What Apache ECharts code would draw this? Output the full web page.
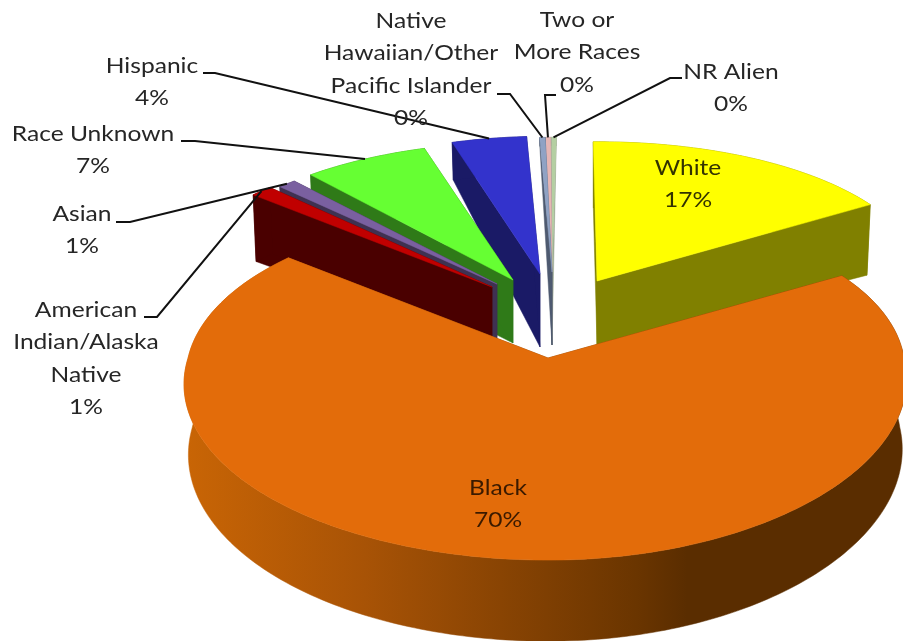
<!DOCTYPE html>
<html>
<head>
<meta charset="utf-8">
<style>html,body{margin:0;padding:0;background:#fff}#c{width:903px;height:641px}</style>
<script src="https://cdn.jsdelivr.net/npm/echarts@6/dist/echarts.min.js"></script>
</head>
<body>
<div id="c"></div>
<script>
// ---- data ----
const categories = ['White','Black','American Indian/Alaska Native','Asian','Race Unknown','Hispanic','Native Hawaiian/Other Pacific Islander','Two or More Races','NR Alien'];
const values = [16.6, 69.6, 1.2, 1.0, 6.7, 4.0, 0.3, 0.3, 0.3];
const labelLines = [['White'],['Black'],['American','Indian/Alaska','Native'],['Asian'],['Race Unknown'],['Hispanic'],['Native','Hawaiian/Other','Pacific Islander'],['Two or','More Races'],['NR Alien']];

// ---- style ----
const topColors = ['#FFFF00','#E36C0A','#C00000','#7A60A0','#66FF33','#3333CC','#8FA2C4','#E6B6B4','#B4CFA2'];
const wallColors = ['#808000',null,'#4A0000','#3F3151','#2F7A18','#1A1A66','#4E5A70','#7A7A80','#9AA890'];
const blackWall = {type:'linear',x:184,y:0,x2:903,y2:0,global:true,colorStops:[
  {offset:0,color:'#C96505'},{offset:.25,color:'#A85306'},{offset:.63,color:'#6A3500'},{offset:.7,color:'#5A2D00'},{offset:1,color:'#5A2D00'}]};
const textColors = ['#333300','#3A1A00','#262626','#262626','#262626','#262626','#262626','#262626','#262626'];

// ---- layout of the 3D view ----
const START = -0.7, K = .149, G = 172, F = 356, C = .07, INSET = .012, TEXT_STRETCH = 1.17;
const apexX = [597,548,492,497,513,540,552,552,552];
const apexY = [281,358,287,284,280,274,272,272,272];
const sliceScale = [.93,1,.92,.9,.92,.92,.9,.9,.9];
const shear = [0,0,0,0,8,9,10,10,10];
const depthNear = [64,69,60,55,63,73,73,73,73];
const depthFar = [76,69,73,70,75,43,10,10,10];
const paintOrder = [7,8,6,5,4,3,2,1,0];
const labelCenterX = [688,498,86,82,93,152,411,577,731];
const labelFirstY = [168,488,310,214,134,66,21,20,72];
const elbows = [null,null,[[144,317],[157,317]],[[116,222],[130,222]],[[181,141],[195,141]],[[203,73],[215,73]],[[497,94],[510,94]],[[556,95],[545,95]],[[682,78],[670,78]]];
const LINE_H = 32.4;

const total = values.reduce((a,b)=>a+b,0);
const angles = []; let acc = START;
values.forEach(v=>{const a=v/total*360;angles.push([acc,acc+a]);acc+=a;});

function widen(X,Y){
  if(X<0) return Y>0 ? 1.011+.04*Y : 1.011;
  return Y>0 ? 1+C*Y : 1+.03*Y;
}
function topPt(i,tDeg,r){
  const t=tDeg*Math.PI/180,X=Math.sin(t)*r,Y=Math.cos(t)*r,w=1+K*Y;
  return [apexX[i]+sliceScale[i]*(F*X*widen(X,Y)+shear[i]*Y)/w, apexY[i]-sliceScale[i]*G*Y/w];
}
function botPt(i,tDeg,r){
  const p=topPt(i,tDeg,r),t=tDeg*Math.PI/180,w=1+K*Math.cos(t)*r;
  const d=(depthNear[i]+(depthFar[i]-depthNear[i])*r)/w;
  return [apexX[i]+(p[0]-apexX[i])*(1-INSET),p[1]+d];
}
function arc(fn,i,a,b){const n=Math.max(2,Math.ceil(Math.abs(b-a)));const o=[];for(let k=0;k<=n;k++)o.push(fn(i,a+(b-a)*k/n,1));return o;}

function renderItem(params){
  const i=params.dataIndex,[a,b]=angles[i];
  const wall=wallColors[i]||blackWall, z=paintOrder[i]*10+1;
  const kids=[];
  const poly=(points,fill,zz)=>kids.push({type:'polygon',z2:zz,shape:{points},style:{fill,stroke:fill,lineWidth:.5}});
  poly([topPt(i,a,1),topPt(i,a,0),botPt(i,a,0),botPt(i,a,1)],wall,z);
  poly([topPt(i,b,1),topPt(i,b,0),botPt(i,b,0),botPt(i,b,1)],wall,z);
  poly(arc(topPt,i,a,b).concat(arc(botPt,i,a,b).reverse()),wall,z+1);
  poly([topPt(i,a,0)].concat(arc(topPt,i,a,b)),topColors[i],z+2);
  const pct=Math.round(values[i]/total*100)+'%';
  const lines=labelLines[i].concat([pct]);
  kids.push({type:'text',z2:200,x:labelCenterX[i],y:labelFirstY[i]-LINE_H/2,scaleX:TEXT_STRETCH,scaleY:1,
    style:{text:lines.join('\n'),x:0,y:0,fill:textColors[i],font:'21px Lato, "Open Sans", sans-serif',align:'center',verticalAlign:'top',lineHeight:LINE_H}});
  if(elbows[i]){
    const end=topPt(i,(a+b)/2,1);
    kids.push({type:'polyline',z2:190,shape:{points:elbows[i].concat([end])},style:{fill:'none',stroke:'#111',lineWidth:2}});
  }
  return {type:'group',children:kids};
}

const chart=echarts.init(document.getElementById('c'));
chart.setOption({
  animation:false,
  backgroundColor:'#fff',
  series:[{type:'custom',coordinateSystem:'none',renderItem,silent:true,
    data:categories.map((name,i)=>({name,value:values[i]}))}]
});
</script>
</body>
</html>
